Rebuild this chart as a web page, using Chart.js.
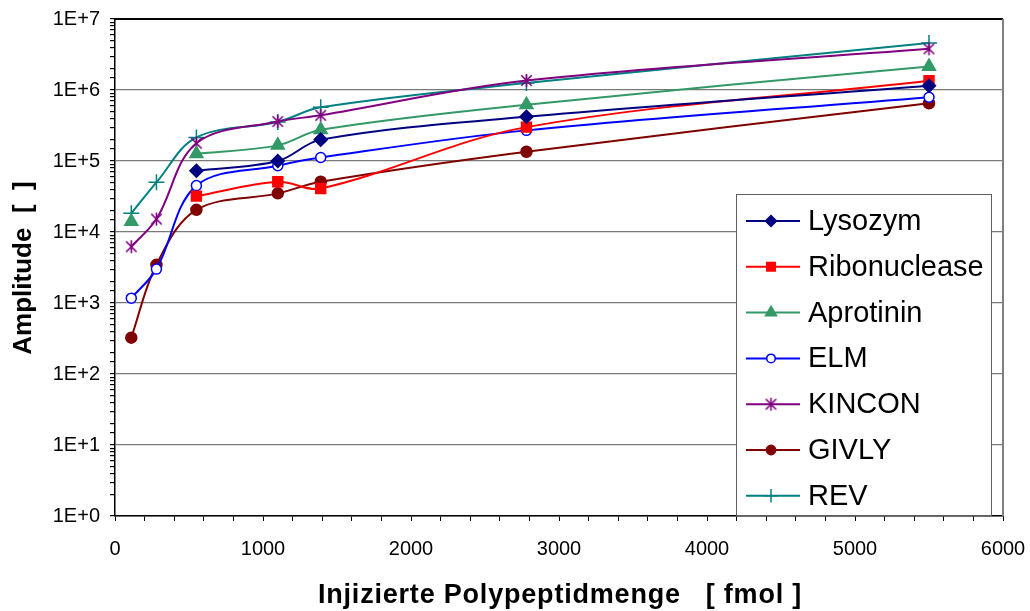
<!DOCTYPE html>
<html>
<head>
<meta charset="utf-8">
<script src="https://cdn.jsdelivr.net/npm/chart.js@4/dist/chart.umd.min.js"></script>
<style>
html,body{margin:0;padding:0;background:#fff;}
#wrap{width:1030px;height:611px;position:relative;}
</style>
</head>
<body>
<div id="wrap"><canvas id="c" width="1030" height="611"></canvas></div>
<script>
// ---- data ----
const xValues = [110, 280, 550, 1100, 1390, 2780, 5500];
const seriesNames = ["Lysozym", "Ribonuclease", "Aprotinin", "ELM", "KINCON", "GIVLY", "REV"];
const lysozym      = [null, null, 73000, 100000, 200000, 420000, 1150000];
const ribonuclease = [null, null, 32000, 51000, 41000, 300000, 1350000];
const aprotinin    = [14000, null, 126000, 166000, 275000, 620000, 2150000];
const elm          = [1170, 3000, 45000, 86000, 112000, 270000, 790000];
const kincon       = [6200, 15200, 178000, 360000, 440000, 1360000, 3800000];
const givly        = [325, 3450, 20500, 35000, 51000, 135000, 650000];
const rev          = [18300, 50000, 215000, 355000, 570000, 1250000, 4600000];
const yTickLabels  = ["1E+0","1E+1","1E+2","1E+3","1E+4","1E+5","1E+6","1E+7"];
const xTickLabels  = [0, 1000, 2000, 3000, 4000, 5000, 6000];

const FONT = "'Liberation Sans', Arial, sans-serif";

function asterisk(color, size){
  const c = document.createElement('canvas');
  c.width = size; c.height = size;
  const g = c.getContext('2d');
  g.strokeStyle = color; g.lineWidth = 1.6;
  const m = size/2, r = size/2 - 1;
  g.beginPath();
  g.moveTo(m, m - r); g.lineTo(m, m + r);
  const d = r*0.8;
  g.moveTo(m - d, m - d); g.lineTo(m + d, m + d);
  g.moveTo(m + d, m - d); g.lineTo(m - d, m + d);
  g.stroke();
  return c;
}

const styles = [
  {color:'#000080', pointStyle:'rectRot', radius:6.5, fill:'#000080'},
  {color:'#FF0000', pointStyle:'rect', radius:7, fill:'#FF0000'},
  {color:'#339966', pointStyle:'triangle', radius:7.5, fill:'#339966'},
  {color:'#0000FF', pointStyle:'circle', radius:5, fill:'#FFFFFF'},
  {color:'#800080', pointStyle:asterisk('#800080', 15), radius:7, fill:'#800080'},
  {color:'#800000', pointStyle:'circle', radius:5.5, fill:'#800000'},
  {color:'#008080', pointStyle:'cross', radius:8, fill:'#008080'}
];
const seriesData = [lysozym, ribonuclease, aprotinin, elm, kincon, givly, rev];

const datasets = seriesNames.map((name, i) => ({
  label: name,
  data: xValues.map((x, j) => ({x: x, y: seriesData[i][j]})),
  borderColor: styles[i].color,
  backgroundColor: styles[i].fill,
  pointBackgroundColor: styles[i].fill,
  pointBorderColor: styles[i].color,
  pointBorderWidth: 1.5,
  pointStyle: styles[i].pointStyle,
  pointRadius: styles[i].radius,
  pointHoverRadius: styles[i].radius,
  borderWidth: 2,
  tension: 0.35,
  spanGaps: false,
  fill: false
}));

const framePlugin = {
  id: 'frame',
  afterDraw(chart){
    const ctx = chart.ctx;
    const a = chart.chartArea;
    ctx.save();
    ctx.strokeStyle = '#000'; ctx.lineWidth = 2;
    ctx.beginPath(); ctx.moveTo(a.left, a.top); ctx.lineTo(a.right, a.top); ctx.stroke();
    ctx.strokeStyle = '#808080'; ctx.lineWidth = 2;
    ctx.beginPath(); ctx.moveTo(a.right, a.top); ctx.lineTo(a.right, a.bottom); ctx.stroke();
    // legend
    const lx = 736, ly = 194, lw = 255, lh = 321;
    ctx.fillStyle = '#fff';
    ctx.fillRect(lx, ly, lw, lh);
    ctx.strokeStyle = '#606060'; ctx.lineWidth = 1;
    ctx.strokeRect(lx + 0.5, ly + 0.5, lw, lh);
    chart.data.datasets.forEach((ds, i) => {
      const y = 221 + i * 45.8;
      ctx.strokeStyle = ds.borderColor; ctx.lineWidth = 2;
      ctx.beginPath(); ctx.moveTo(746, y); ctx.lineTo(800, y); ctx.stroke();
      ctx.fillStyle = ds.pointBackgroundColor;
      ctx.strokeStyle = ds.pointBorderColor;
      ctx.lineWidth = 1.5;
      const r = ds.pointRadius * 0.85;
      if (Chart.helpers && Chart.helpers.drawPoint) {
        Chart.helpers.drawPoint(ctx, {pointStyle: ds.pointStyle, radius: r, borderWidth: 1.5, rotation: 0}, 771, y);
      }
      ctx.fillStyle = '#000';
      ctx.font = '29px ' + FONT;
      ctx.textBaseline = 'middle';
      ctx.textAlign = 'left';
      ctx.fillText(ds.label, 808, y + 1);
    });
    // axis titles
    ctx.fillStyle = '#000';
    ctx.textAlign = 'center';
    ctx.textBaseline = 'middle';
    ctx.font = 'bold 27px ' + FONT;
    try { ctx.letterSpacing = '0.8px'; } catch(e) {}
    ctx.fillText('Injizierte Polypeptidmenge   [ fmol ]', 560, 596);
    try { ctx.letterSpacing = '0px'; } catch(e) {}
    ctx.save();
    ctx.translate(24, 268);
    ctx.rotate(-Math.PI/2);
    ctx.font = 'bold 26px ' + FONT;
    ctx.fillText('Amplitude  [  ]', 0, 0);
    ctx.restore();
    ctx.restore();
  }
};

function isDecade(v){
  const l = Math.log10(v);
  return Math.abs(l - Math.round(l)) < 1e-9;
}

new Chart(document.getElementById('c'), {
  type: 'line',
  data: { datasets: datasets },
  options: {
    responsive: false,
    animation: false,
    events: [],
    layout: { padding: { top: 19, right: 27, left: 0, bottom: 0 } },
    plugins: { legend: { display: false }, tooltip: { enabled: false }, title: { display: false } },
    scales: {
      x: {
        type: 'linear',
        min: 0, max: 6000,
        afterFit(s){ s.height = 95; s.paddingLeft = 0; s.paddingRight = 0; },
        border: { color: '#000', width: 1.5 },
        grid: { drawOnChartArea: false, drawTicks: true, tickLength: 5, tickColor: '#000' },
        ticks: {
          stepSize: 200,
          autoSkip: false,
          maxRotation: 0,
          padding: 16,
          color: '#000',
          font: { family: FONT, size: 20 },
          callback: (v) => xTickLabels.includes(v) ? String(v) : ''
        }
      },
      y: {
        type: 'logarithmic',
        min: 1, max: 1e7,
        afterFit(s){ s.width = 115; s.paddingTop = 0; s.paddingBottom = 0; },
        border: { color: '#000', width: 1.5 },
        grid: {
          drawOnChartArea: true,
          drawTicks: true,
          tickLength: 5,
          tickColor: '#000',
          lineWidth: 1.2,
          color: (c) => (c.tick && isDecade(c.tick.value)) ? '#7a7a7a' : 'rgba(0,0,0,0)'
        },
        ticks: {
          autoSkip: false,
          padding: 10,
          color: '#000',
          font: { family: FONT, size: 20 },
          callback: (v) => isDecade(v) ? yTickLabels[Math.round(Math.log10(v))] : ''
        }
      }
    }
  },
  plugins: [framePlugin]
});
</script>
</body>
</html>
